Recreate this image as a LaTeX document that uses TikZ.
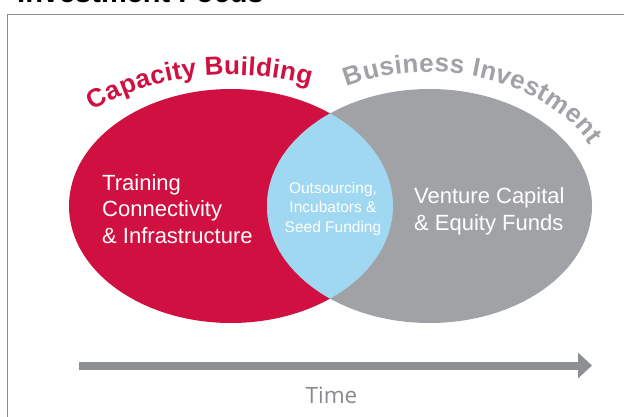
\documentclass[tikz,border=0pt]{standalone}
\usepackage{fontspec}
\setmainfont{Liberation Sans}
\newfontfamily\timefont{Open Sans}
\usetikzlibrary{arrows.meta,decorations.text}
\definecolor{capred}{RGB}{208,16,64}
\definecolor{invgray}{RGB}{161,162,166}
\definecolor{lensblue}{RGB}{161,216,241}
\definecolor{arrowgray}{RGB}{142,143,147}
\definecolor{timegray}{RGB}{137,138,142}
\definecolor{framegray}{RGB}{138,141,145}
\begin{document}
\begin{tikzpicture}[x=1pt,y=1pt,
  bodytext/.style={text=white, font=\fontsize{22}{26.5}\selectfont, align=left, inner sep=0pt, anchor=base west},
  lenstext/.style={text=white, font=\fontsize{15.5}{19.5}\selectfont, align=center, inner sep=0pt, anchor=base},
  arctext/.style={decorate, decoration={text along path, text align=fit to path, text color=#1}}]
\useasboundingbox (0,0) rectangle (624,-417);
\fill[white] (0,0) rectangle (624,-417);
\node[anchor=base west, font=\bfseries\fontsize{29}{29}\selectfont, inner sep=0pt] (title) at (17,-3) {Investment Focus};
\draw[framegray, line width=1.6pt] (7.5,-417) -- (7.5,-14.5) -- (624,-14.5);
% circles
\fill[capred] (231,-206) ellipse [x radius=162, y radius=117];
\fill[invgray] (429.5,-206) ellipse [x radius=162.5, y radius=117];
\begin{scope}
  \clip (231,-206) ellipse [x radius=162, y radius=117];
  \fill[lensblue] (429.5,-206) ellipse [x radius=162.5, y radius=117];
\end{scope}
% curved titles
\path[arctext=capred, decoration={text={|\bfseries\fontsize{26}{26}\selectfont|Capacity Building}}]
  ([shift={(133.6:200 and 131)}]231,-206) arc[start angle=133.6, end angle=66.7, x radius=200, y radius=131];
\path[arctext=invgray, decoration={text={|\bfseries\fontsize{26}{26}\selectfont|Business Investment}}]
  ([shift={(117.3:180 and 134)}]429.5,-206) arc[start angle=117.3, end angle=27, x radius=180, y radius=134];
% texts (base anchor = last line)
\node[bodytext] (training) at (102,-243) {Training\\Connectivity\\\& Infrastructure};
\node[bodytext] (venture) at (414,-230) {Venture Capital\\\& Equity Funds};
\node[lenstext] (lens) at (333,-232) {Outsourcing,\\Incubators \&\\Seed Funding};
% time arrow
\coordinate (tstart) at (79,-365.5);
\coordinate (tend) at (592,-365.5);
\draw[arrowgray, line width=8pt, -{Triangle[length=14pt, width=25pt]}] (tstart) -- (tend);
\node[anchor=base, text=timegray, font=\timefont\fontsize{22.5}{22.5}\selectfont, inner sep=0pt] (time) at (331.5,-403) {Time};
\end{tikzpicture}
\end{document}
